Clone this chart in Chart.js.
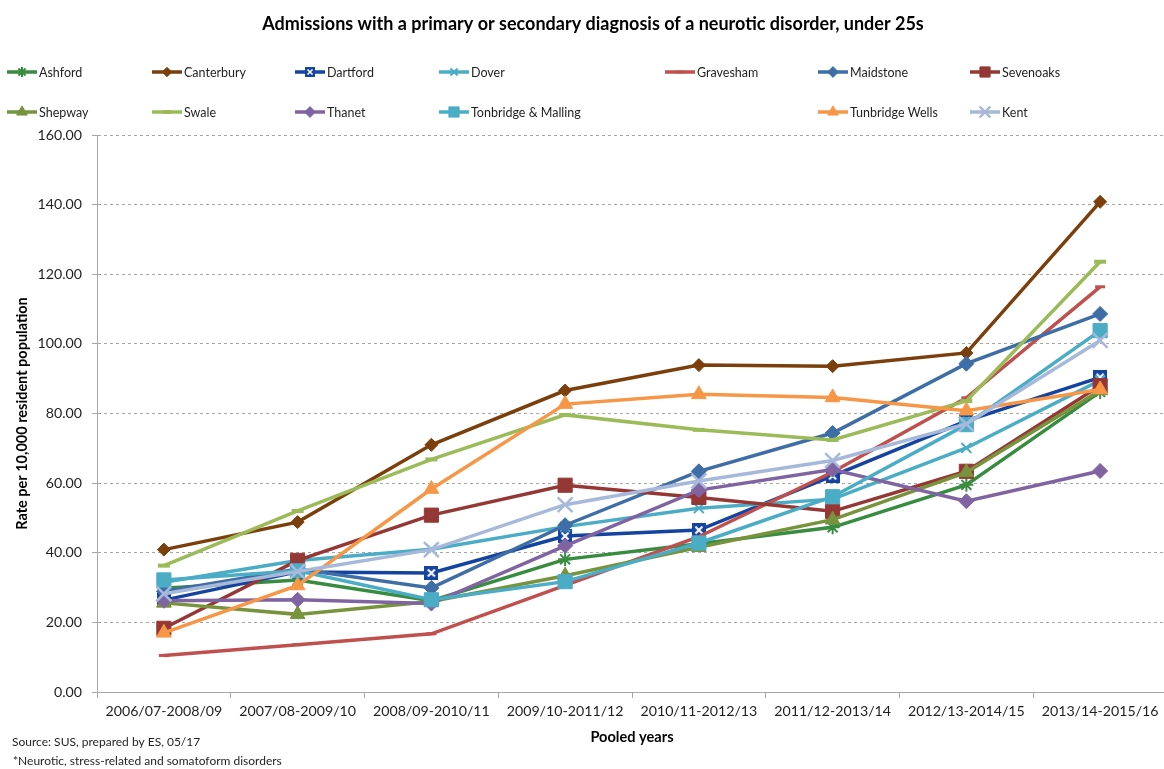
<!DOCTYPE html>
<html>
<head>
<meta charset="utf-8">
<title>Admissions with a neurotic disorder, under 25s</title>
<script src="https://cdn.jsdelivr.net/npm/chart.js"></script>
<style>
  html, body { margin: 0; padding: 0; background: #ffffff; overflow: hidden; }
  canvas { display: block; }
</style>
</head>
<body>
<canvas id="chart" width="1168" height="769"></canvas>
<script>
// Pooled three-year periods
const categories = ['2006/07-2008/09', '2007/08-2009/10', '2008/09-2010/11', '2009/10-2011/12',
                    '2010/11-2012/13', '2011/12-2013/14', '2012/13-2014/15', '2013/14-2015/16'];

// Rate per 10,000 resident population, by district
const ashford        = [29.8, 32.2, 26.2, 38.1, 42.6, 47.3, 59.5, 86.2];
const canterbury     = [40.9, 48.8, 71.0, 86.6, 93.9, 93.6, 97.4, 140.8];
const dartford       = [26.4, 34.5, 34.2, 44.8, 46.5, 62.1, 77.9, 90.4];
const dover          = [31.5, 37.8, 41.0, 47.5, 52.8, 55.4, 70.1, 89.5];
const gravesham      = [10.5, 13.6, 16.7, 30.6, 44.6, 63.2, 84.5, 116.4];
const maidstone      = [28.9, 35.3, 29.9, 47.9, 63.4, 74.4, 94.3, 108.6];
const sevenoaks      = [18.3, 37.8, 50.8, 59.4, 55.9, 51.9, 63.4, 88.0];
const shepway        = [25.6, 22.3, 26.0, 33.4, 41.6, 49.5, 63.1, 86.6];
const swale          = [36.3, 52.0, 66.8, 79.6, 75.3, 72.4, 83.6, 123.6];
const thanet         = [26.2, 26.5, 25.4, 42.0, 58.0, 63.9, 54.8, 63.5];
const tonbridge      = [32.2, 34.8, 26.5, 31.7, 42.8, 56.1, 76.8, 103.8];
const tunbridgeWells = [17.0, 30.6, 58.3, 82.7, 85.5, 84.6, 80.8, 86.9];
const kent           = [28.2, 34.6, 40.9, 53.8, 60.6, 66.5, 77.0, 101.0];

// y-axis range
const yMin = 0, yMax = 160, yStep = 20;

const FONT = 'Lato, "Open Sans", "Liberation Sans", sans-serif';
const TEXT = '#1f1f1f';

// Dartford marker: filled square with a white cross
function crossedSquare(size, color) {
  const c = document.createElement('canvas');
  c.width = size; c.height = size;
  const g = c.getContext('2d');
  g.fillStyle = color;
  g.fillRect(0, 0, size, size);
  g.strokeStyle = '#ffffff';
  g.lineWidth = Math.max(1.5, size / 7);
  const m = size * 0.25;
  g.beginPath();
  g.moveTo(m, m); g.lineTo(size - m, size - m);
  g.moveTo(size - m, m); g.lineTo(m, size - m);
  g.stroke();
  return c;
}

const series = [
  { label: 'Ashford',             data: ashford,        color: '#378C40', style: 'star',     r: 7,   bw: 2 },
  { label: 'Canterbury',          data: canterbury,     color: '#7B3F0C', style: 'rectRot',  r: 6.5, bw: 1 },
  { label: 'Dartford',            data: dartford,       color: '#1443A0', style: 'crossSq',  r: 7,   bw: 1 },
  { label: 'Dover',               data: dover,          color: '#4BACC6', style: 'crossRot', r: 7,   bw: 2 },
  { label: 'Gravesham',           data: gravesham,      color: '#C0504D', style: 'line',     r: 5,   bw: 3 },
  { label: 'Maidstone',           data: maidstone,      color: '#3F6EA6', style: 'rectRot',  r: 7.5, bw: 1 },
  { label: 'Sevenoaks',           data: sevenoaks,      color: '#953735', style: 'rect',     r: 10,  bw: 1 },
  { label: 'Shepway',             data: shepway,        color: '#77933C', style: 'triangle', r: 8.5, bw: 1 },
  { label: 'Swale',               data: swale,          color: '#9BBB59', style: 'line',     r: 6,   bw: 4 },
  { label: 'Thanet',              data: thanet,         color: '#8064A2', style: 'rectRot',  r: 7.5, bw: 1 },
  { label: 'Tonbridge & Malling', data: tonbridge,      color: '#4BACC6', style: 'rect',     r: 10,  bw: 1 },
  { label: 'Tunbridge Wells',     data: tunbridgeWells, color: '#F79646', style: 'triangle', r: 8.5, bw: 1 },
  { label: 'Kent',                data: kent,           color: '#A7B9DA', style: 'crossRot', r: 10.5, bw: 2.5 }
];

series.forEach(s => {
  if (s.style === 'crossSq') {
    s.pointStyle = crossedSquare(14, s.color);
    s.legendStyle = crossedSquare(10, s.color);
  } else {
    s.pointStyle = s.style;
    s.legendStyle = s.style;
  }
});

const datasets = series.map((s, i) => ({
  label: s.label,
  data: s.data,
  borderColor: s.color,
  backgroundColor: s.color,
  borderWidth: 3.5,
  tension: 0,
  fill: false,
  pointStyle: s.pointStyle,
  pointRadius: s.r,
  pointBorderWidth: s.bw,
  pointBorderColor: s.color,
  pointBackgroundColor: s.color,
  pointHoverRadius: s.r,
  order: series.length - i   // later districts sit on top
}));

// Title, legend grid, rotated y title and source notes
const decorations = {
  id: 'decorations',
  afterDraw(chart) {
    const ctx = chart.ctx;
    ctx.save();

    // Main title
    ctx.fillStyle = '#000000';
    ctx.font = 'bold 18px ' + FONT;
    ctx.textAlign = 'center';
    ctx.textBaseline = 'alphabetic';
    ctx.fillText('Admissions with a primary or secondary diagnosis of a neurotic disorder, under 25s', 593, 30);

    // Legend: two rows, fixed columns
    const colX = [7, 152, 295, 439, 665, 818, 970];
    const rowY = [72, 112];
    ctx.font = '12.5px ' + FONT;
    ctx.textAlign = 'left';
    ctx.textBaseline = 'middle';
    series.forEach((s, i) => {
      const row = i < 7 ? 0 : 1;
      const col = i < 7 ? i : i - 7 + (i >= 11 ? 1 : 0);
      const x = colX[col];
      const y = rowY[row];
      ctx.strokeStyle = s.color;
      ctx.lineWidth = 3.5;
      ctx.beginPath();
      ctx.moveTo(x, y);
      ctx.lineTo(x + 30, y);
      ctx.stroke();
      ctx.fillStyle = s.color;
      ctx.strokeStyle = s.color;
      ctx.lineWidth = s.bw;
      Chart.helpers.drawPoint(ctx, {
        pointStyle: s.legendStyle, radius: s.r * 0.72, borderWidth: s.bw, rotation: 0
      }, x + 15, y);
      ctx.fillStyle = TEXT;
      ctx.fillText(s.label, x + 32, y + 1);
    });

    // Y axis title
    const area = chart.chartArea;
    ctx.save();
    ctx.translate(22, (area.top + area.bottom) / 2);
    ctx.rotate(-Math.PI / 2);
    ctx.font = 'bold 14.5px ' + FONT;
    ctx.fillStyle = '#000000';
    ctx.textAlign = 'center';
    ctx.textBaseline = 'middle';
    ctx.fillText('Rate per 10,000 resident population', 0, 0);
    ctx.restore();

    // Source notes
    ctx.font = '12px ' + FONT;
    ctx.fillStyle = TEXT;
    ctx.textAlign = 'left';
    ctx.textBaseline = 'middle';
    ctx.fillText('Source: SUS, prepared by ES, 05/17', 12, 742);
    ctx.fillText('*Neurotic, stress-related and somatoform disorders', 13, 761);

    ctx.restore();
  }
};

new Chart(document.getElementById('chart'), {
  type: 'line',
  data: { labels: categories, datasets },
  options: {
    responsive: false,
    animation: false,
    events: [],
    layout: { autoPadding: false, padding: { top: 135, right: 1, bottom: 20, left: 0 } },
    plugins: {
      legend: { display: false },
      title: { display: false },
      tooltip: { enabled: false }
    },
    scales: {
      x: {
        offset: true,
        grid: { display: true, offset: true, drawOnChartArea: false, drawTicks: true,
                tickLength: 6, color: '#a6a6a6', tickColor: '#a6a6a6' },
        border: { display: true, color: '#a6a6a6', width: 1 },
        ticks: { font: { family: FONT, size: 14.2 }, color: TEXT, padding: 5,
                 maxRotation: 0, autoSkip: false },
        title: { display: true, text: 'Pooled years', color: '#000000',
                 font: { family: FONT, size: 14.6, weight: 'bold' },
                 padding: { top: 4, bottom: 3 } },
        afterFit: s => { s.height = 57; s.paddingLeft = 0; s.paddingRight = 0; }
      },
      y: {
        min: yMin,
        max: yMax,
        ticks: { stepSize: yStep, callback: v => Number(v).toFixed(2),
                 font: { family: FONT, size: 14.2 }, color: TEXT, padding: 10 },
        grid: { color: '#a6a6a6', lineWidth: 1, tickLength: 5, tickColor: '#a6a6a6' },
        border: { display: true, color: '#a6a6a6', width: 1, dash: [3, 3] },
        afterFit: s => { s.width = 97; }
      }
    }
  },
  plugins: [decorations]
});
</script>
</body>
</html>
